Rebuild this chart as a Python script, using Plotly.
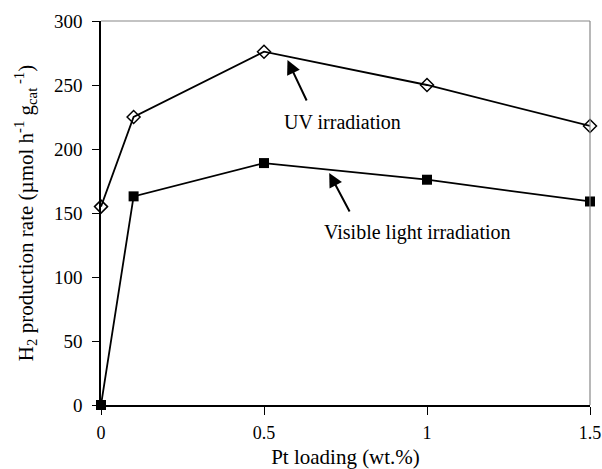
import plotly.graph_objects as go

# Pt loading (wt.%) and H2 production rate (umol h-1 gcat-1)
pt_loading = [0, 0.1, 0.5, 1.0, 1.5]
uv_rate = [155, 225, 276, 250, 218]
visible_rate = [0, 163, 189, 176, 159]

y_ticks = [0, 50, 100, 150, 200, 250, 300]
x_ticks = [0, 0.5, 1, 1.5]
x_tick_labels = ["0", "0.5", "1", "1.5"]

FONT = "Liberation Serif, Times New Roman, serif"

fig = go.Figure()

fig.add_trace(go.Scatter(
    x=pt_loading, y=uv_rate, mode="lines+markers", name="UV irradiation",
    line=dict(color="black", width=1.8),
    marker=dict(symbol="diamond-open", size=10, color="black",
                line=dict(color="black", width=1.5)),
    cliponaxis=False,
))
fig.add_trace(go.Scatter(
    x=pt_loading, y=visible_rate, mode="lines+markers", name="Visible light irradiation",
    line=dict(color="black", width=1.8),
    marker=dict(symbol="square", size=10, color="black"),
    cliponaxis=False,
))

# Arrow pointers and curve labels
arrow = dict(showarrow=True, arrowhead=2, arrowsize=1.4, arrowwidth=2,
             arrowcolor="black", axref="x", ayref="y", text="")
fig.add_annotation(x=0.572, y=269.5, ax=0.633, ay=236.7, **arrow)
fig.add_annotation(x=0.700, y=181.3, ax=0.765, ay=150.0, **arrow)

label_font = dict(family=FONT, size=20, color="black")
fig.add_annotation(x=0.740, y=221, text="UV irradiation", showarrow=False,
                   font=label_font, xanchor="center", yanchor="middle")
fig.add_annotation(x=0.972, y=135, text="Visible light irradiation", showarrow=False,
                   font=label_font, xanchor="center", yanchor="middle")

# Grey top and right frame
frame = dict(type="line", xref="paper", yref="paper",
             line=dict(color="#888888", width=1.2))
fig.add_shape(x0=0, x1=1, y0=1, y1=1, **frame)
fig.add_shape(x0=1, x1=1, y0=0, y1=1, **frame)

fig.update_layout(
    width=602, height=469,
    margin=dict(l=101, r=12, t=21, b=64),
    paper_bgcolor="white", plot_bgcolor="white",
    showlegend=False,
    font=dict(family=FONT, color="black"),
    xaxis=dict(
        range=[0, 1.5], tickvals=x_ticks, ticktext=x_tick_labels,
        automargin=False,
        showgrid=False, zeroline=False, showline=True, linecolor="black", linewidth=1.5,
        ticks="outside", ticklen=8, tickwidth=1.2, tickcolor="black",
        ticklabeloverflow="allow", ticklabelstandoff=3,
        tickfont=dict(family=FONT, size=18),
        title=dict(text="Pt loading (wt.%)", font=dict(family=FONT, size=21), standoff=12),
    ),
    yaxis=dict(
        range=[0, 300], tickvals=y_ticks,
        automargin=False,
        showgrid=False, zeroline=False, showline=True, linecolor="black", linewidth=1.5,
        ticks="outside", ticklen=7, tickwidth=1.2, tickcolor="black",
        ticklabelstandoff=6,
        tickfont=dict(family=FONT, size=19),
        title=dict(text="H<sub>2</sub> production rate (µmol h<sup>-1</sup> g<sub>cat</sub><sup> -1</sup>)",
                   font=dict(family=FONT, size=21), standoff=15),
    ),
)

fig.write_html("out.html")
